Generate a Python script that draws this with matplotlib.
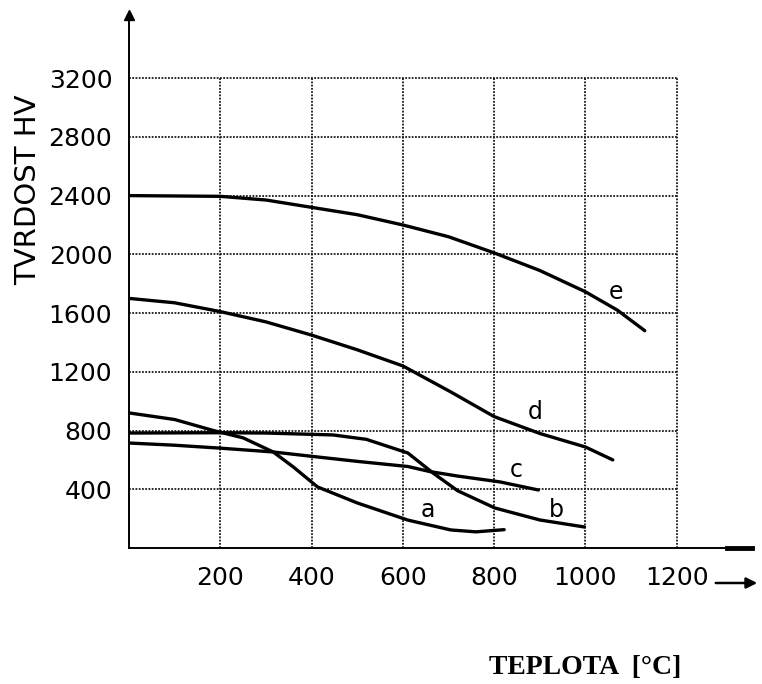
import matplotlib
matplotlib.use("Agg")
from matplotlib import pyplot as plt
from matplotlib import font_manager

# hardness vs temperature, curves a..e
a_x = [0, 100, 185, 250, 316, 360, 413, 500, 611, 705, 760, 822]
a_y = [920, 875, 800, 750, 654, 552, 416, 307, 190, 123, 110, 125]
b_x = [0, 200, 300, 447, 520, 611, 666, 720, 802, 900, 998]
b_y = [783, 785, 783, 770, 740, 647, 511, 390, 272, 191, 143]
c_x = [0, 100, 200, 316, 413, 500, 611, 660, 720, 813, 897]
c_y = [715, 700, 680, 654, 620, 590, 555, 520, 490, 450, 395]
d_x = [0, 100, 200, 300, 400, 500, 600, 705, 800, 900, 1000, 1060]
d_y = [1700, 1670, 1610, 1540, 1450, 1350, 1240, 1063, 895, 780, 688, 600]
e_x = [0, 200, 300, 400, 500, 600, 700, 800, 900, 1000, 1070, 1130]
e_y = [2400, 2395, 2370, 2320, 2270, 2200, 2120, 2010, 1890, 1745, 1620, 1480]

curve_names = ["a", "b", "c", "d", "e"]
label_pos = [(655, 260), (936, 260), (848, 530), (890, 925), (1066, 1745)]

x_ticks = [200, 400, 600, 800, 1000, 1200]
y_ticks = [400, 800, 1200, 1600, 2000, 2400, 2800, 3200]

names = {f.name for f in font_manager.fontManager.ttflist}
sans = "Liberation Sans Narrow" if "Liberation Sans Narrow" in names else "DejaVu Sans"
size = 21 if sans == "Liberation Sans Narrow" else 17

fig = plt.figure(figsize=(7.62, 6.84), dpi=100)
ax = fig.add_axes([129 / 762, 1 - 548 / 684, (752 - 129) / 762, (548 - 15) / 684])
ax.set_xlim(0, 1365)
ax.set_ylim(0, 3630)

# rough dotted grid like the printed chart
ax.hlines(y_ticks, 0, 1200, colors="#1a1a1a", linestyles=(0, (1.0, 0.8)), linewidth=1.3)
ax.vlines(x_ticks, 0, 3200, colors="#1a1a1a", linestyles=(0, (1.0, 0.8)), linewidth=1.3)

for xs, ys in [(a_x, a_y), (b_x, b_y), (c_x, c_y), (d_x, d_y), (e_x, e_y)]:
    ax.plot(xs, ys, color="black", linewidth=2.4, solid_capstyle="round",
            solid_joinstyle="round")

for name, (lx, ly) in zip(curve_names, label_pos):
    ax.text(lx, ly, name, family=sans, fontsize=size, ha="center", va="center")

for s in ["top", "right"]:
    ax.spines[s].set_visible(False)
ax.spines["left"].set_linewidth(1.4)
ax.spines["bottom"].set_linewidth(1.4)
ax.spines["left"].set_bounds(0, 3600)
ax.plot([1310, 1365], [0, 0], color="black", linewidth=3.5, clip_on=False)
ax.plot([0], [3630], marker="^", color="black", markersize=7, clip_on=False)

ax.set_xticks(x_ticks)
ax.set_yticks(y_ticks)
ax.tick_params(length=0)
ax.tick_params(axis="y", pad=12)
ax.tick_params(axis="x", pad=13)
for lab in ax.get_xticklabels() + ax.get_yticklabels():
    lab.set_family(sans)
    lab.set_fontsize(size + 1)

fig.text(28 / 762, 1 - 190 / 684, "TVRDOST HV", rotation=90, family=sans,
         fontsize=size + 4, ha="center", va="center")
fig.text(585 / 762, 1 - 668 / 684, "TEPLOTA  [°C]", family="Liberation Serif",
         fontweight="bold", fontsize=20, ha="center", va="center")
fig.add_artist(matplotlib.patches.FancyArrowPatch(
    (713 / 762, 1 - 583 / 684), (760 / 762, 1 - 583 / 684), transform=fig.transFigure,
    arrowstyle="-|>", mutation_scale=16, color="black", linewidth=1.8))

fig.savefig("out.png", dpi=100)
